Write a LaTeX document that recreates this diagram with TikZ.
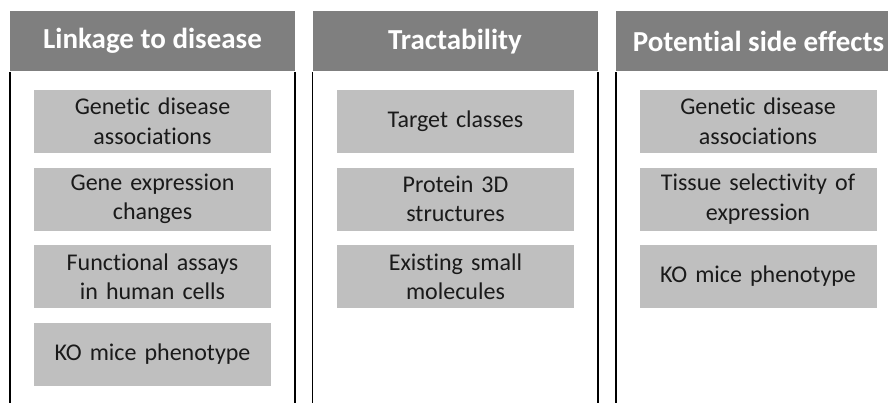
\documentclass[tikz,border=0pt]{standalone}
\usepackage{fontspec}
\setmainfont{Carlito}[Ligatures=NoCommon]
\begin{document}
\begin{tikzpicture}[x=1pt,y=-1pt,
  headbar/.style={fill=headgray, text=white, font=\bfseries\fontsize{29}{35}\selectfont,
    minimum width=285pt, minimum height=60pt, inner sep=0pt, anchor=north},
  itembox/.style={fill=boxgray, text=textdark, font=\fontsize{24}{29.5}\selectfont,
    minimum width=237pt, minimum height=63pt, inner sep=0pt, align=center, text width=230pt},
  colline/.style={line width=1.6pt, black}]
\definecolor{headgray}{HTML}{7F7F7F}
\definecolor{boxgray}{HTML}{BFBFBF}
\definecolor{textdark}{HTML}{1A1A1A}
\useasboundingbox (0,0) rectangle (888,402);
\clip (0,0) rectangle (888,402);

% column headers
\node[headbar] (h1) at (152.5,11) {Linkage to disease};
\node[headbar] (h2) at (455,11) {Tractability};
\node[headbar] (h3) at (758.5,11) {Potential side effects};

% column side rules
\foreach \c in {h1,h2,h3}{
  \coordinate (\c bl) at ([yshift=-0.8pt]\c.south west);
  \coordinate (\c br) at ([yshift=-0.8pt]\c.south east);
  \draw[colline] (\c bl) -- (\c bl |- 0,410);
  \draw[colline] (\c br) -- (\c br |- 0,410);
}

% Linkage to disease
\node[itembox] (a1) at (152.5,121.5) {Genetic disease\\associations};
\node[itembox] (a2) at (152.5,199) {Gene expression\\changes};
\node[itembox] (a3) at (152.5,276.5) {Functional assays\\in human cells};
\node[itembox] (a4) at (152.5,354) {KO mice phenotype};

% Tractability
\node[itembox] (b1) at (455.5,121.5) {Target classes};
\node[itembox] (b2) at (455.5,199) {Protein 3D\\structures};
\node[itembox] (b3) at (455.5,276.5) {Existing small\\molecules};

% Potential side effects
\node[itembox] (c1) at (758,121.5) {Genetic disease\\associations};
\node[itembox] (c2) at (758,199) {Tissue selectivity of\\expression};
\node[itembox] (c3) at (758,276.5) {KO mice phenotype};
\end{tikzpicture}
\end{document}
